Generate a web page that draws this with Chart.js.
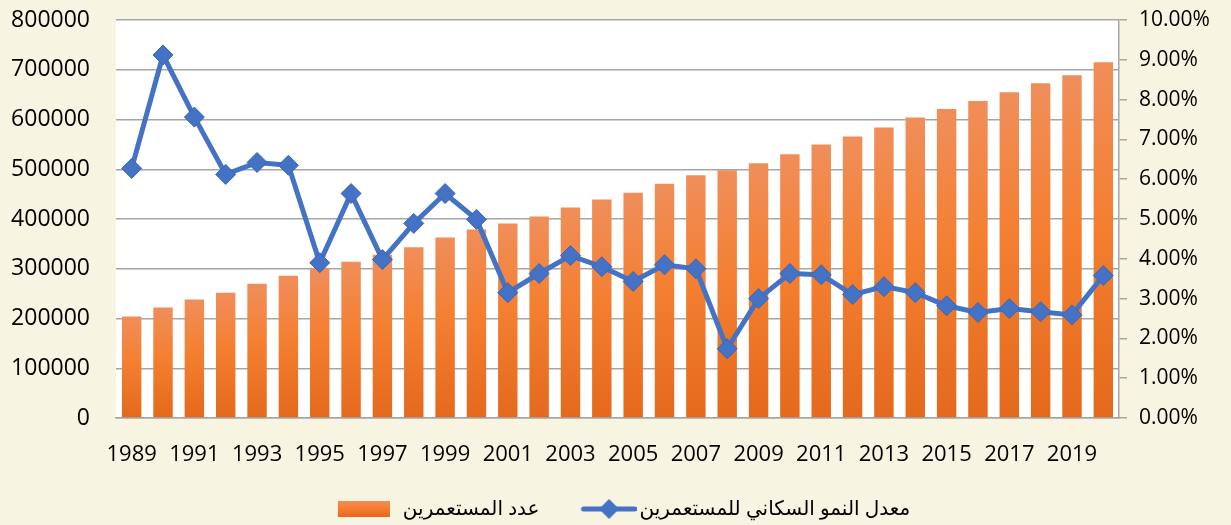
<!DOCTYPE html>
<html lang="ar">
<head>
<meta charset="utf-8">
<script src="https://cdn.jsdelivr.net/npm/chart.js@4.4.1/dist/chart.umd.min.js"></script>
<style>
  html, body { margin: 0; padding: 0; background: #F7F4E1; }
</style>
</head>
<body>
<canvas id="chart" width="1231" height="525"></canvas>
<script>
    // Datos
    const years = ['1989', '1990', '1991', '1992', '1993', '1994', '1995', '1996', '1997', '1998',
                   '1999', '2000', '2001', '2002', '2003', '2004', '2005', '2006', '2007', '2008',
                   '2009', '2010', '2011', '2012', '2013', '2014', '2015', '2016', '2017', '2018',
                   '2019', '2020'];
    const colonists = [204000, 222000, 238000, 252000, 270000, 286000, 302000, 314000, 328000, 343000,
                       363000, 379000, 391000, 405000, 423000, 439000, 453000, 471000, 488000, 498000,
                       512000, 530000, 550000, 566000, 584000, 604000, 621000, 637000, 655000, 673000,
                       689000, 715000];
    const growthRate = [6.27, 9.12, 7.56, 6.12, 6.42, 6.35, 3.90, 5.64, 3.98, 4.89,
                        5.64, 4.99, 3.15, 3.63, 4.08, 3.80, 3.43, 3.85, 3.75, 1.74,
                        3.00, 3.63, 3.60, 3.10, 3.30, 3.15, 2.82, 2.65, 2.75, 2.67,
                        2.59, 3.58];
    const seriesNames = ['عدد المستعمرين', 'معدل النمو السكاني للمستعمرين'];

    const blue = '#4472C4';
    const gridGray = '#A6A6A6';

    // Degradado naranja de cada barra
    function barGradient(g, top, bottom) {
        const grad = g.createLinearGradient(0, top, 0, bottom);
        grad.addColorStop(0, '#F08E5A');
        grad.addColorStop(0.45, '#F47F31');
        grad.addColorStop(1, '#E4691D');
        return grad;
    }

    // Muestras de la leyenda
    function barSwatch() {
        const c = document.createElement('canvas');
        c.width = 76; c.height = 16;
        const g = c.getContext('2d');
        g.fillStyle = barGradient(g, 0, 16);
        g.fillRect(24, 0, 52, 16);
        return c;
    }
    function lineSwatch() {
        const c = document.createElement('canvas');
        c.width = 96; c.height = 24;
        const g = c.getContext('2d');
        g.strokeStyle = blue;
        g.lineWidth = 5;
        g.lineCap = 'round';
        g.beginPath(); g.moveTo(43, 12); g.lineTo(94, 12); g.stroke();
        g.fillStyle = blue;
        g.beginPath();
        g.moveTo(68.5, 2); g.lineTo(78.5, 12); g.lineTo(68.5, 22); g.lineTo(58.5, 12);
        g.closePath(); g.fill();
        return c;
    }

    // Fondo crema y área del gráfico blanca
    const backgroundPlugin = {
        id: 'fondo',
        beforeDraw(chart) {
            const { ctx, chartArea } = chart;
            ctx.save();
            ctx.fillStyle = '#F7F4E1';
            ctx.fillRect(0, 0, chart.width, chart.height);
            ctx.fillStyle = '#FFFFFF';
            ctx.fillRect(chartArea.left, chartArea.top, chartArea.right - chartArea.left, chartArea.bottom - chartArea.top);
            ctx.restore();
        }
    };

    // Ancho fijo de los ejes verticales, sin relleno extra arriba
    const fixWidth = (w) => (s) => {
        s.width = w;
        s.paddingTop = 0;
        s.paddingBottom = 0;
    };

    const font = { family: "'Open Sans', 'DejaVu Sans', sans-serif" };

    const ctx = document.getElementById('chart').getContext('2d');
    const chart = new Chart(ctx, {
        type: 'bar',
        data: {
            labels: years,
            datasets: [{
                label: seriesNames[0],
                data: colonists,
                yAxisID: 'y',
                order: 1,
                barPercentage: 0.62,
                categoryPercentage: 1,
                backgroundColor: (c) => {
                    const area = c.chart.chartArea;
                    if (!area || c.raw === undefined) return '#F47F31';
                    const top = c.chart.scales.y.getPixelForValue(c.raw);
                    return barGradient(c.chart.ctx, top, area.bottom);
                }
            }, {
                type: 'line',
                label: seriesNames[1],
                data: growthRate,
                yAxisID: 'y1',
                order: 0,
                borderColor: blue,
                borderWidth: 5,
                tension: 0,
                pointStyle: 'rectRot',
                pointRadius: 10,
                pointBackgroundColor: blue,
                pointBorderColor: '#3B66B5',
                pointBorderWidth: 1
            }]
        },
        options: {
            responsive: false,
            animation: false,
            layout: { autoPadding: false, padding: { top: 20, left: 0, right: 10, bottom: -4 } },
            plugins: {
                tooltip: { enabled: false },
                legend: {
                    position: 'bottom',
                    labels: {
                        usePointStyle: true,
                        pointStyleWidth: 82,
                        padding: 8,
                        color: '#000',
                        font: { ...font, size: 20 },
                        generateLabels: () => [
                            { text: seriesNames[0], pointStyle: barSwatch(), fillStyle: 'transparent', strokeStyle: 'transparent', lineWidth: 0, datasetIndex: 0, fontColor: '#000' },
                            { text: seriesNames[1], pointStyle: lineSwatch(), fillStyle: 'transparent', strokeStyle: 'transparent', lineWidth: 0, datasetIndex: 1, fontColor: '#000' }
                        ]
                    }
                }
            },
            scales: {
                x: {
                    grid: { display: false, drawTicks: false },
                    border: { display: true, color: gridGray, width: 1.5 },
                    ticks: {
                        autoSkip: false,
                        maxRotation: 0,
                        padding: 24,
                        color: '#000',
                        font: { ...font, size: 22 },
                        callback: (v, i) => (i % 2 === 0 ? years[i] : '')
                    },
                    afterFit: (s) => { s.height = 73; }
                },
                y: {
                    position: 'left',
                    min: 0,
                    max: 800000,
                    grid: { color: gridGray, lineWidth: 1.5, drawTicks: false },
                    border: { display: false },
                    ticks: {
                        stepSize: 100000,
                        padding: 26,
                        color: '#000',
                        font: { ...font, size: 23 },
                        callback: (v) => String(v)
                    },
                    afterFit: fixWidth(116)
                },
                y1: {
                    position: 'right',
                    min: 0,
                    max: 10,
                    grid: { drawOnChartArea: false, color: gridGray, lineWidth: 1.5, tickLength: 8 },
                    border: { display: true, color: gridGray, width: 1.5 },
                    ticks: {
                        stepSize: 1,
                        padding: 12,
                        color: '#000',
                        font: { ...font, size: 21 },
                        callback: (v) => v.toFixed(2) + '%'
                    },
                    afterFit: fixWidth(102)
                }
            }
        },
        plugins: [backgroundPlugin]
    });
</script>
</body>
</html>
